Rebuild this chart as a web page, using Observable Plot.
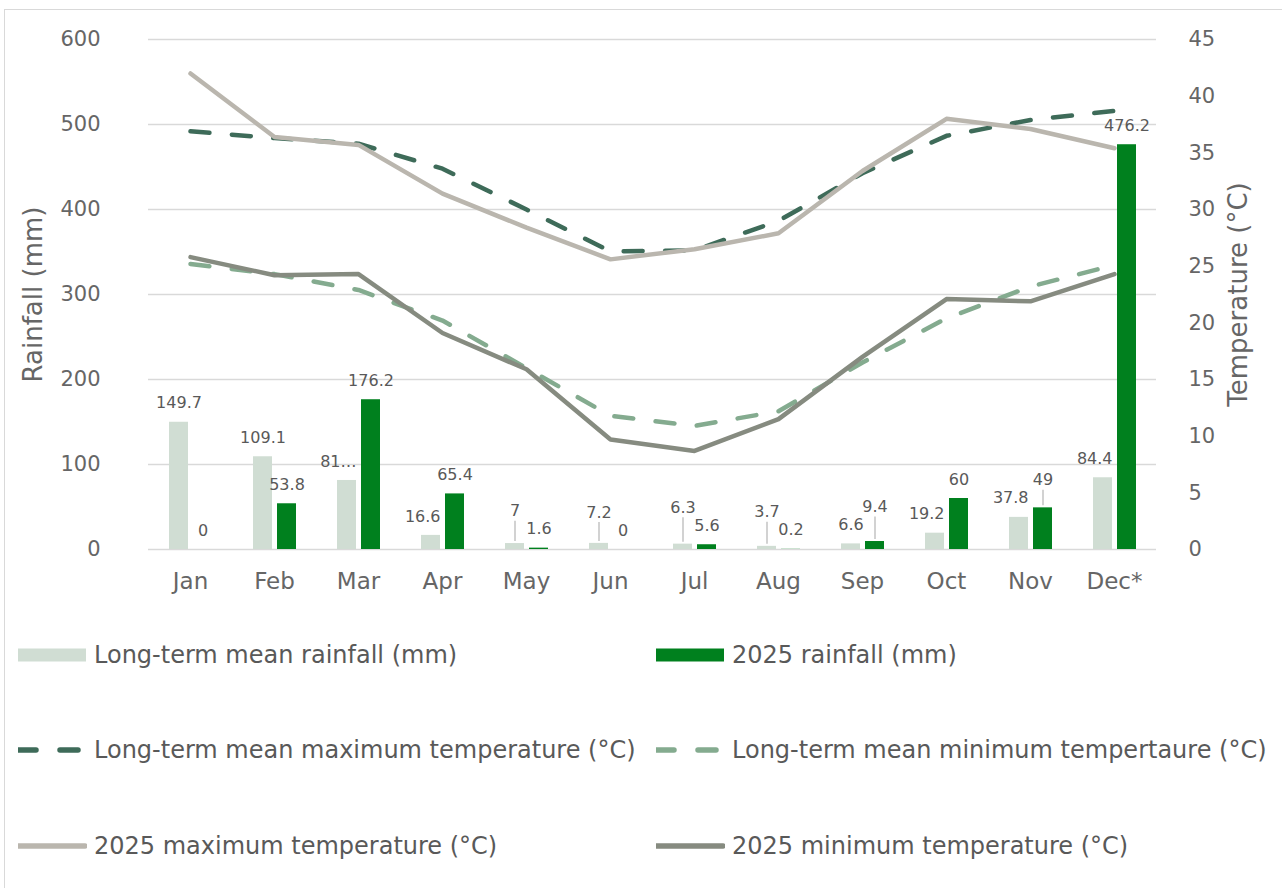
<!DOCTYPE html>
<html>
<head>
<meta charset="utf-8">
<script src="https://cdn.jsdelivr.net/npm/d3@7"></script>
<script src="https://cdn.jsdelivr.net/npm/@observablehq/plot@0.6"></script>
<style>
  html, body { margin: 0; padding: 0; background: #fff; }
  body { width: 1282px; height: 888px; position: relative; overflow: hidden; font-family: "DejaVu Sans", Verdana, sans-serif; }
  #frame { position: absolute; left: 4px; top: 9px; width: 1400px; height: 1000px; border-left: 1.5px solid #d9d9d9; border-top: 1.5px solid #d9d9d9; pointer-events: none; }
  #chart { position: absolute; left: 0; top: 0; }
  .leg { position: absolute; display: flex; align-items: center; font-size: 24px; color: #595959; white-space: nowrap; }
  .leg svg { margin-right: 7px; }
</style>
</head>
<body>
<div id="frame"></div>
<div id="chart"></div>
<div id="legend"></div>
<script>
// ---- data ----
const months = ["Jan","Feb","Mar","Apr","May","Jun","Jul","Aug","Sep","Oct","Nov","Dec*"];
const ltRain = [149.7,109.1,81.2,16.6,7,7.2,6.3,3.7,6.6,19.2,37.8,84.4];
const ltRainLabels = ["149.7","109.1","81…","16.6","7","7.2","6.3","3.7","6.6","19.2","37.8","84.4"];
const rain2025 = [0,53.8,176.2,65.4,1.6,0,5.6,0.2,9.4,60,49,476.2];
const rain2025Labels = ["0","53.8","176.2","65.4","1.6","0","5.6","0.2","9.4","60","49","476.2"];
const ltMaxT = [36.9,36.3,35.8,33.6,30.0,26.3,26.4,29.0,33.2,36.5,37.9,38.7];
const ltMinT = [25.2,24.3,22.9,20.2,16.0,11.8,10.9,12.2,16.5,20.4,23.2,25.1];
const max2025 = [42.0,36.4,35.7,31.4,28.4,25.6,26.5,27.9,33.4,38.0,37.1,35.4];
const min2025 = [25.8,24.2,24.3,19.1,15.9,9.7,8.7,11.5,17.0,22.1,21.9,24.3];
const rainTicks = [0,100,200,300,400,500,600];
const tempTicks = [0,5,10,15,20,25,30,35,40,45];

// ---- layout constants ----
const W = 1282, H = 605;
const mL = 148, mR = 126, mT = 39, mB = H - 549;
const rainMax = 600, tempMax = 45;
const t2r = t => t * rainMax / tempMax;
const pxPerMm = (549 - mT) / rainMax;

const C = {
  lt: "#d0ddd3", y25: "#00801e",
  ltMax: "#3e6b59", ltMin: "#84ab8f", max25: "#bab6ae", min25: "#868b80",
  grid: "#d9d9d9", tick: "#666666", label: "#595959"
};

const rows = months.map((m, i) => ({
  month: m, lt: ltRain[i], y25: rain2025[i],
  ltMax: t2r(ltMaxT[i]), ltMin: t2r(ltMinT[i]), max25: t2r(max2025[i]), min25: t2r(min2025[i])
}));

// ---- data label layout (Excel-like) ----
const fs = 16;
const textW = s => [...s].reduce((a, c) => a + (c === "." ? 0.318 : c === "…" ? 1.0 : 0.636) * fs, 0);
const labelMarks = [];
const leaders = [];
months.forEach((m, i) => {
  const ltTop = 549 - ltRain[i] * pxPerMm;
  const nTop = 549 - rain2025[i] * pxPerMm;
  const a = {text: ltRainLabels[i], v: ltRain[i], cx: -11.5, y: ltTop - 19, top: ltTop, lift: false};
  const b = {text: rain2025Labels[i], v: rain2025[i], cx: 12.5, y: nTop - 19, top: nTop, lift: false};
  const wa = textW(a.text), wb = textW(b.text);
  if (Math.abs(a.y - b.y) < 16 && (wa + wb) / 2 + 8 > (b.cx - a.cx)) {
    const [hi, lo] = b.v > a.v ? [b, a] : [a, b];
    hi.y = Math.min(hi.y, lo.y - 18);
    hi.lift = true;
  }
  // keep the long-term label clear of the 2025 bar
  if (!a.lift && a.y + 8 > nTop - 4 && a.cx + wa / 2 > -2) a.cx = -2 - wa / 2;
  for (const L of [a, b]) {
    labelMarks.push(Plot.text([{month: m, val: L.v}], {
      x: "month", y: "val", text: () => L.text,
      dx: L.cx, dy: L.y - (549 - L.v * pxPerMm),
      fontSize: fs, fill: C.label
    }));
    if (L.lift && (L.top - 2) - (L.y + 10) > 3) {
      leaders.push(Plot.ruleX([{month: m}], {
        x: "month", y1: (L.top - 2 - 549) / -pxPerMm, y2: (L.y + 10 - 549) / -pxPerMm,
        dx: L.cx, stroke: "#b4b4b4", strokeWidth: 1.2
      }));
    }
  }
});

const dash = "19,22.5";
const lineOpts = (key, color, dashed) => ({
  x: "month", y: key, stroke: color, strokeWidth: 4.5,
  strokeLinecap: "round", strokeLinejoin: "round",
  strokeDasharray: dashed ? dash : null
});

const chart = Plot.plot({
  width: W, height: H,
  marginLeft: mL, marginRight: mR, marginTop: mT, marginBottom: mB,
  style: {fontFamily: "'DejaVu Sans', Verdana, sans-serif", background: "transparent", overflow: "visible"},
  x: {domain: months, padding: 0},
  y: {domain: [0, rainMax]},
  marks: [
    Plot.ruleY(rainTicks, {stroke: C.grid, strokeWidth: 1.5}),
    Plot.axisX({tickSize: 0, tickPadding: 23, fontSize: 23, fill: C.tick, label: null}),
    Plot.axisY(rainTicks, {anchor: "left", tickSize: 0, tickPadding: 48, fontSize: 21, fill: C.tick, label: null}),
    Plot.axisY(tempTicks.map(t2r), {anchor: "right", tickSize: 0, tickPadding: 32, fontSize: 21, fill: C.tick, label: null,
      tickFormat: d => String(Math.round(d * tempMax / rainMax))}),
    Plot.text(["Rainfall (mm)"], {frameAnchor: "left", textAnchor: "middle", text: d => d, rotate: -90, dx: -115, fontSize: 26, fill: C.tick}),
    Plot.text(["Temperature (°C)"], {frameAnchor: "right", textAnchor: "middle", text: d => d, rotate: -90, dx: 82, fontSize: 26, fill: C.tick}),
    Plot.barY(rows, {x: "month", y: "lt", fill: C.lt, insetLeft: 21, insetRight: 44}),
    Plot.barY(rows, {x: "month", y: "y25", fill: C.y25, insetLeft: 45, insetRight: 20}),
    ...leaders,
    ...labelMarks,
    Plot.line(rows, lineOpts("ltMax", C.ltMax, true)),
    Plot.line(rows, lineOpts("ltMin", C.ltMin, true)),
    Plot.line(rows, lineOpts("max25", C.max25, false)),
    Plot.line(rows, lineOpts("min25", C.min25, false))
  ]
});
document.getElementById("chart").appendChild(chart);

// ---- legend ----
const legendItems = [
  {label: "Long-term mean rainfall (mm)", type: "rect", color: C.lt, col: 0, row: 0},
  {label: "2025 rainfall (mm)", type: "rect", color: C.y25, col: 1, row: 0},
  {label: "Long-term mean maximum temperature (°C)", type: "dash", color: C.ltMax, col: 0, row: 1},
  {label: "Long-term mean minimum tempertaure (°C)", type: "dash", color: C.ltMin, col: 1, row: 1},
  {label: "2025 maximum temperature (°C)", type: "line", color: C.max25, col: 0, row: 2},
  {label: "2025 minimum temperature (°C)", type: "line", color: C.min25, col: 1, row: 2}
];
const colX = [18, 656], rowY = [655, 750, 846];
const leg = document.getElementById("legend");
legendItems.forEach(it => {
  const div = document.createElement("div");
  div.className = "leg";
  div.style.left = colX[it.col] + "px";
  div.style.top = (rowY[it.row] - 15) + "px";
  div.style.height = "30px";
  let sw;
  if (it.type === "rect") sw = `<rect x="0" y="8.5" width="68" height="13" fill="${it.color}"/>`;
  else if (it.type === "dash") sw = `<line x1="0" y1="15" x2="68" y2="15" stroke="${it.color}" stroke-width="5.5" stroke-linecap="round" stroke-dasharray="18,24"/>`;
  else sw = `<line x1="1" y1="15" x2="67" y2="15" stroke="${it.color}" stroke-width="5.5" stroke-linecap="round"/>`;
  div.innerHTML = `<svg width="69" height="30">${sw}</svg><span>${it.label}</span>`;
  leg.appendChild(div);
});
</script>
</body>
</html>
